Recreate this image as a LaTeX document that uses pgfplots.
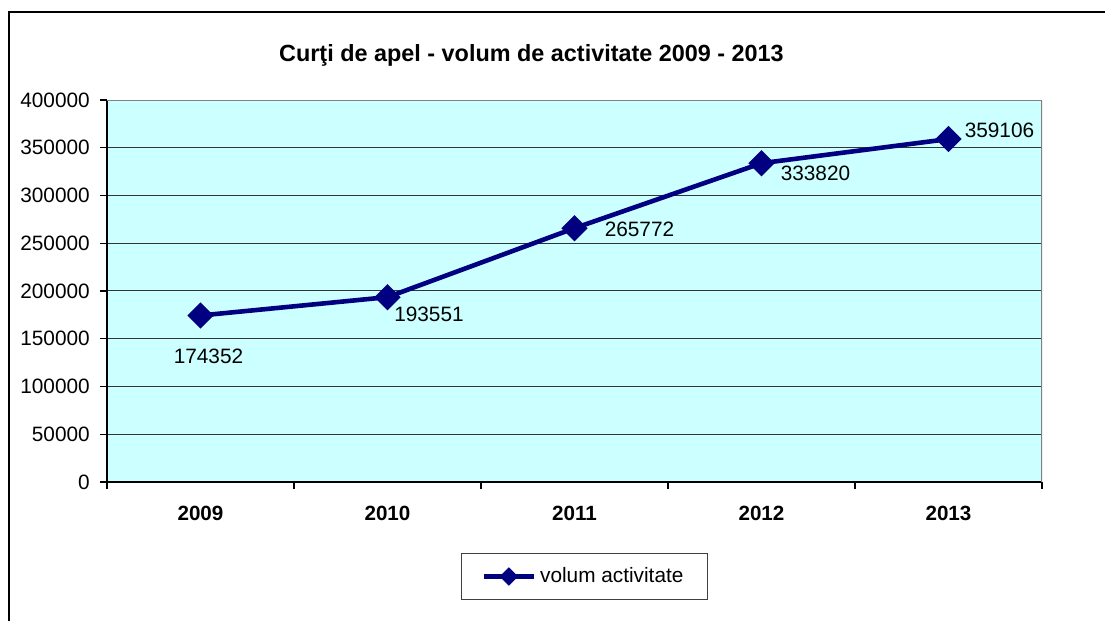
\documentclass[border=0pt]{standalone}
\usepackage{pgfplots}
\pgfplotsset{compat=1.18}
\usepackage{fontspec}
\setmainfont{Liberation Sans}
\definecolor{bgc}{RGB}{204,255,255}
\definecolor{navyc}{RGB}{0,0,128}
\begin{document}
\begin{tikzpicture}
\path[use as bounding box] (0pt,0pt) rectangle (552.5pt,310.5pt);
\draw[line width=0.8pt] (4.5pt,-2pt) -- (4.5pt,304.5pt) -- (560pt,304.5pt);
\node[anchor=base,font=\fontsize{11.7}{14}\selectfont\bfseries] at (265.75pt,279.5pt) {Curţi de apel - volum de activitate 2009 - 2013};
\begin{axis}[
  at={(53.5pt,69.5pt)}, anchor=south west,
  scale only axis, width=467.5pt, height=191pt,
  xmin=-0.5, xmax=4.5, ymin=0, ymax=400000,
  axis x line*=bottom, axis y line*=left,
  axis line style={-, black, line width=0.6pt},
  axis background/.style={fill=bgc},
  tick align=outside, major tick length=3.5pt,
  tick style={black, line width=0.6pt},
  xtick={-0.5,0.5,1.5,2.5,3.5,4.5},
  xticklabels={,,,,,},
  extra x ticks={0,1,2,3,4},
  extra x tick labels={2009,2010,2011,2012,2013},
  extra x tick style={major tick length=0pt, xticklabel style={font=\fontsize{10.3}{12}\selectfont\bfseries, yshift=-8.6pt}},
  ytick={0,50000,...,400000},
  ymajorgrids, grid style={black!80, line width=0.5pt},
  scaled y ticks=false,
  tick label style={font=\fontsize{10.4}{12}\selectfont},
  yticklabel style={xshift=-1.6pt},
  /pgf/number format/.cd, fixed, 1000 sep={}, assume math mode=true,
  /pgfplots/.cd,
  legend style={at={(0.5107,-0.2474)}, anchor=center, draw=black!75, line width=0.6pt,
    font=\fontsize{10.4}{12}\selectfont, inner xsep=10pt, inner ysep=5pt},
  legend image code/.code={\draw[#1, mark repeat=2, mark phase=2, mark size=2.1pt] plot coordinates {(0pt,0pt) (12.5pt,0pt) (25pt,0pt)};},
]
\addplot[navyc, line width=2.3pt, mark=square*, mark size=3.5pt, mark options={rotate=45, solid},
  nodes near coords, point meta=explicit symbolic,
  visualization depends on={\thisrow{dx}\as\dx},
  visualization depends on={\thisrow{dy}\as\dy},
  every node near coord/.append style={font=\fontsize{10.4}{12}\selectfont, text=black, anchor=center, xshift=\dx pt, yshift=\dy pt}]
  table[x=x, y=y, meta=lab] {
x y lab dx dy
0 174352 174352 4 -20.5
1 193551 193551 20.75 -8.5
2 265772 265772 32.5 -0.5
3 333820 333820 27 -5.25
4 359106 359106 25.5 4.25
};
\addlegendentry{volum activitate}
\draw[black!50, line width=0.6pt] (rel axis cs:0,1) -- (rel axis cs:1,1) -- (rel axis cs:1,0);
\end{axis}
\end{tikzpicture}
\end{document}
